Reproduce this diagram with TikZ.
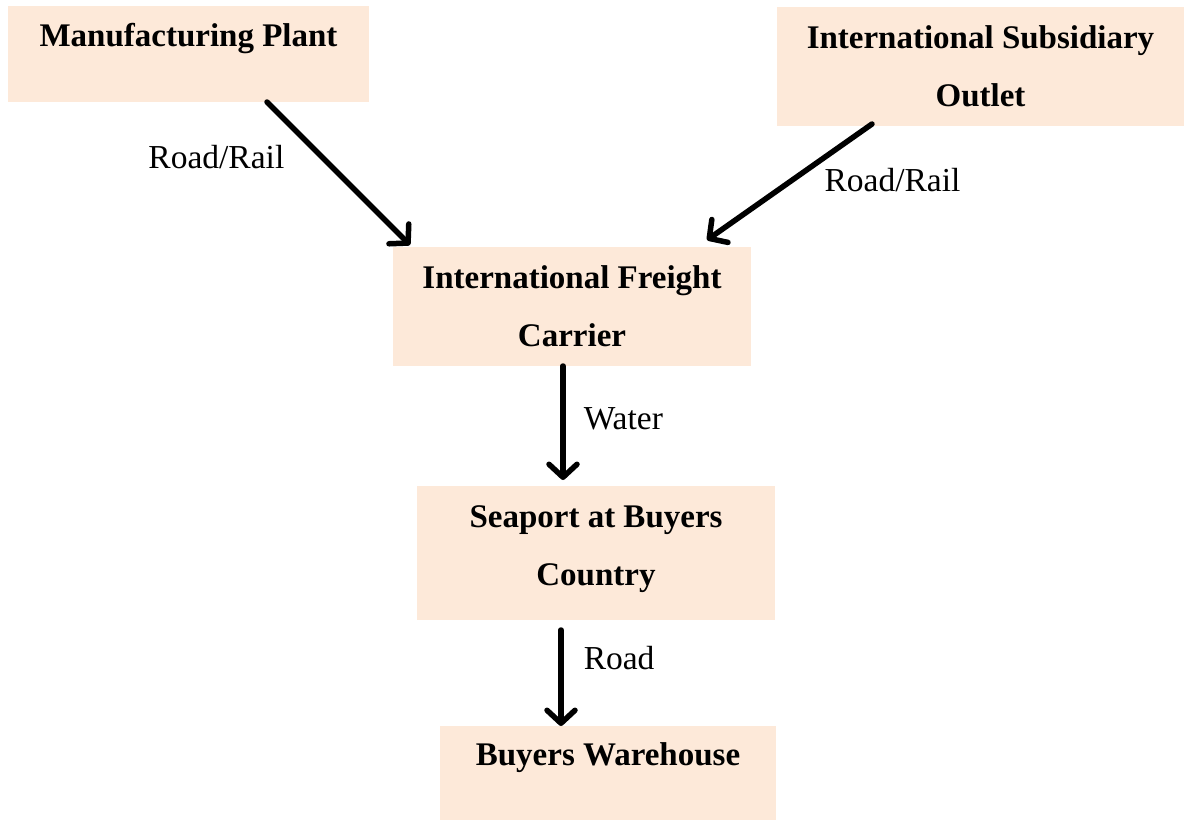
\documentclass[tikz,border=0pt]{standalone}
\usepackage{fontspec}
\setmainfont{Liberation Serif}
\usepackage{tikz}
\usetikzlibrary{arrows.meta,positioning}
\definecolor{peach}{HTML}{FDE9D9}

\begin{document}
\begin{tikzpicture}[
    x=1pt, y=-1pt,
    box/.style={
        rectangle, fill=peach, inner sep=0, outer sep=0,
        align=center,
        font=\fontsize{33}{58}\selectfont\bfseries},
    flow/.style={line width=5.5pt, line cap=round,
        -{Straight Barb[length=13pt, width=28pt, line cap=round, line join=round]}},
    way/.style={inner sep=0, font=\fontsize{33.5}{40}\selectfont}]
\useasboundingbox (0,0) rectangle (1192,820);

\node[box, minimum width=361pt, text height=40pt, text depth=56pt] (plant) at (188.5,54) {Manufacturing Plant};
\node[box, minimum width=407pt, minimum height=119pt] (outlet) at (980.5,66.5) {International Subsidiary\\Outlet};
\node[box, minimum width=358pt, minimum height=119pt] (carrier) at (572,306.5) {International Freight\\Carrier};
\node[box, minimum width=358pt, text height=99pt, text depth=35pt] (seaport) at (596,553) {Seaport at Buyers\\Country};
\node[box, minimum width=336pt, text height=39pt, text depth=55pt] (warehouse) at (608,773) {Buyers Warehouse};

\path[draw, flow] ([xshift=78.5pt]plant.south) -- ([xshift=17pt, yshift=2pt]carrier.north west)
    node[way, pos=0.385, left=35pt] (byland1) {Road/Rail};
\path[draw, flow] ([xshift=-108.5pt, yshift=2pt]outlet.south) -- ([xshift=-44pt, yshift=7pt]carrier.north east)
    node[way, pos=0.48, right=29pt] (byland2) {Road/Rail};
\path[draw, flow] ([xshift=-9pt]carrier.south) -- ([xshift=-33pt, yshift=6pt]seaport.north)
    node[way, pos=0.46, right=18pt] (bysea) {Water};
\path[draw, flow] ([xshift=-35pt, yshift=-10pt]seaport.south) -- ([xshift=-47pt]warehouse.north)
    node[way, pos=0.29, right=20pt] (byroad) {Road};

\end{tikzpicture}
\end{document}
